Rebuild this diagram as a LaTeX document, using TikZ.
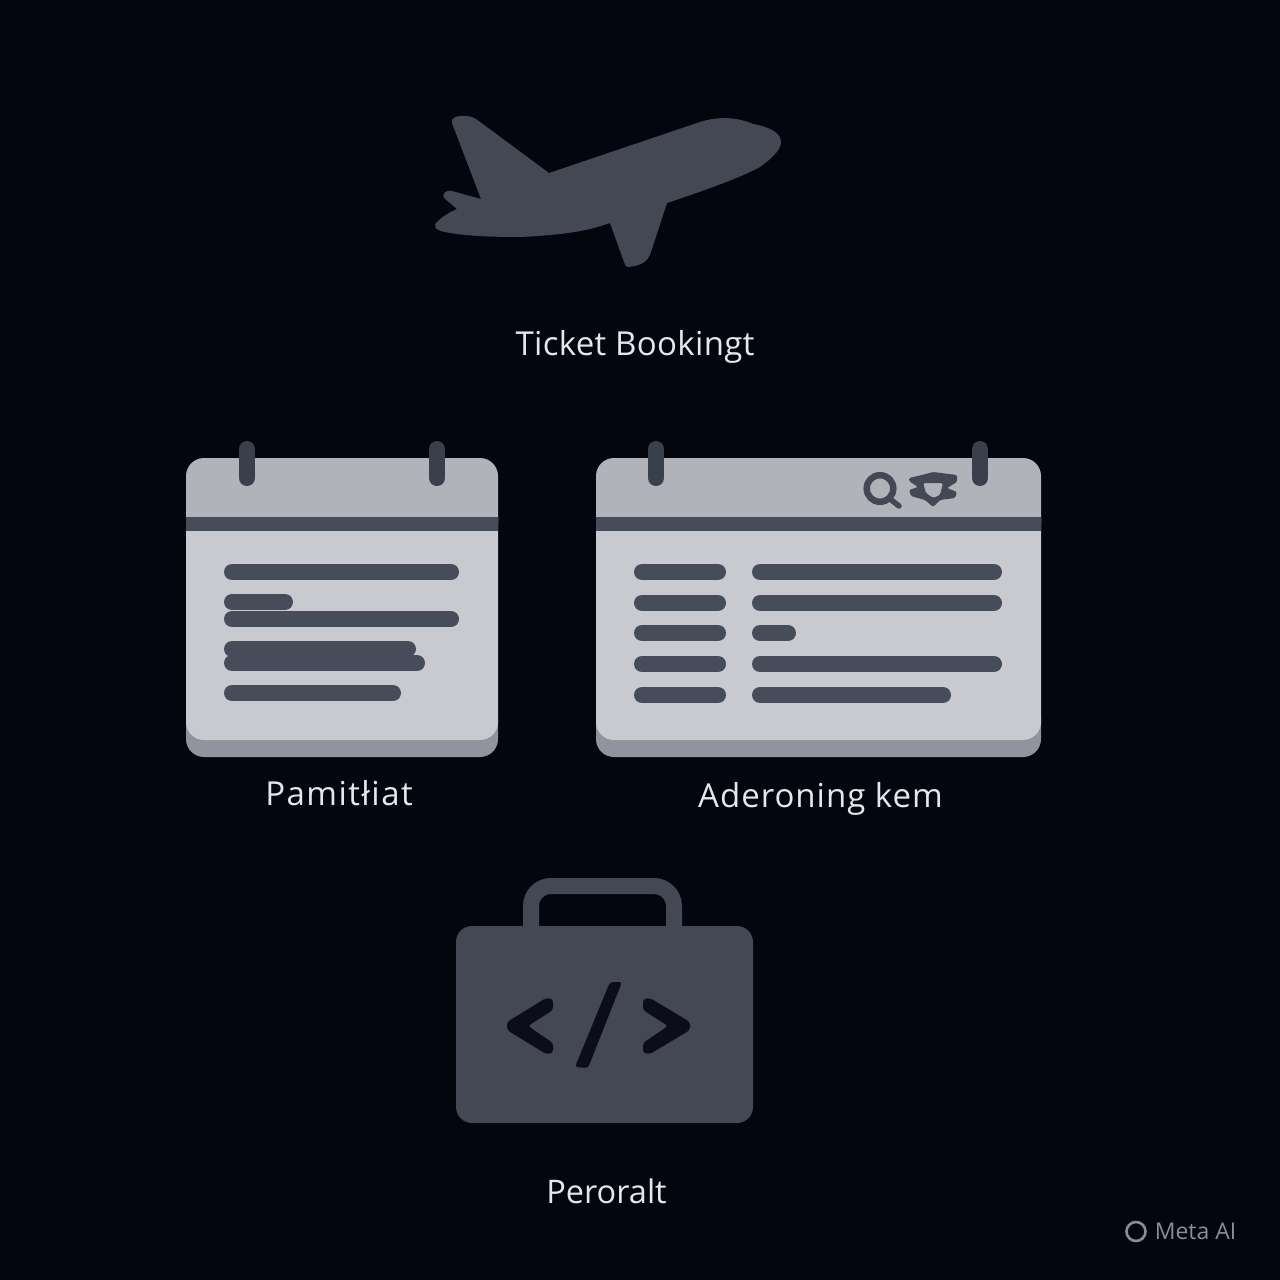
\documentclass[tikz,border=0pt]{standalone}
\usepackage{fontspec}
\setmainfont{Open Sans}
\definecolor{bgc}{HTML}{03050F}
\definecolor{icon}{HTML}{434854}
\definecolor{pin}{HTML}{3A3F4C}
\definecolor{head}{HTML}{B0B3BA}
\definecolor{bodyc}{HTML}{C8CACF}
\definecolor{lip}{HTML}{91949E}
\definecolor{barc}{HTML}{474C5A}
\definecolor{glyph}{HTML}{0B0E1A}
\definecolor{labc}{HTML}{E6E7EA}
\definecolor{markc}{HTML}{8A8D96}
\tikzset{
  x=1pt,y=-1pt,
  lab/.style={text=labc,font=\fontsize{33}{38}\selectfont,inner sep=0pt,anchor=base},
  bar/.style={line width=16pt,line cap=round,draw=barc},
  pinline/.style={line width=16pt,line cap=round,draw=pin},
  code/.style={fill=glyph,rounded corners=3pt},
}
\begin{document}
\begin{tikzpicture}
\useasboundingbox (0,0) rectangle (1280,1280);
\fill[bgc] (0,0) rectangle (1280,1280);
% plane
\fill[icon] (452,123) .. controls (450,117) and (460,115) .. (467,116)
 .. controls (470,116) and (473,117) .. (476,119) -- (549,173) -- (700,122)
 .. controls (715,117) and (735,116) .. (753,124)
 .. controls (770,127) and (781,133) .. (781,142)
 .. controls (781,150) and (772,158) .. (760,167)
 .. controls (740,178) and (700,192) .. (667,203)
 -- (650,255) .. controls (647,262) and (640,266) .. (628,267)
 .. controls (626,267) and (625,265) .. (624,262)
 -- (610,223) .. controls (585,232) and (560,235) .. (520,237)
 .. controls (490,237) and (465,236) .. (445,232)
 .. controls (435,230) and (432,226) .. (438,221)
 .. controls (443,216) and (450,212) .. (457,209) -- (444,198)
 .. controls (441,194) and (447,189) .. (452,191) -- (481,199) -- cycle;
\node[lab] (t1) at (635,355.5) {\addfontfeature{LetterSpace=1}Ticket Bookingt};
% calendar 1
\fill[lip,rounded corners=18pt] (186,700) rectangle (498,757);
\fill[bodyc,rounded corners=18pt] (186,500) rectangle (498,740);
\fill[head,rounded corners=18pt] (186,458) rectangle (498,540);
\fill[bodyc] (186,525) rectangle (498,560);
\fill[barc] (186,517) rectangle (498,531);
\draw[pinline] (247,449) -- (247,478);
\draw[pinline] (437,449) -- (437,478);
\draw[bar] (232,572) -- (451,572);
\draw[bar] (232,602) -- (285,602);
\draw[bar] (232,619) -- (451,619);
\draw[bar] (232,649) -- (408,649);
\draw[bar] (232,663) -- (417,663);
\draw[bar] (232,693) -- (393,693);
\node[lab] (t2) at (339,805) {\addfontfeature{LetterSpace=4.4}Pamitłiat};
% calendar 2
\fill[lip,rounded corners=18pt] (596,700) rectangle (1041,757);
\fill[bodyc,rounded corners=18pt] (596,500) rectangle (1041,740);
\fill[head,rounded corners=18pt] (596,458) rectangle (1041,540);
\fill[bodyc] (596,525) rectangle (1041,560);
\fill[barc] (596,517) rectangle (1041,531);
\draw[pinline] (656,449) -- (656,478);
\draw[pinline] (980,449) -- (980,478);
\foreach \yy/\xe in {572/994,603/994,633/788,664/994,695/943}{
  \draw[bar] (642,\yy) -- (718,\yy);
  \draw[bar] (760,\yy) -- (\xe,\yy);
}
\draw[icon,line width=6.5pt] (880,488.5) circle (13.3);
\draw[icon,line width=5.5pt,line cap=round] (890,499) -- (899,506);
\fill[icon,even odd rule,rounded corners=1.5pt] (909,478) -- (922,475) -- (933,472) -- (957,475) -- (957,482) -- (947,488) -- (957,492) -- (955,498) -- (940,500) -- (933,507) -- (925,500) -- (911,496) -- (909,490) -- (918,487) -- (909,481) -- cycle
  (923,483) -- (943,483) -- (940,495) -- (933,498) -- (926,493) -- cycle;
\node[lab] (t3) at (820.5,807) {\addfontfeature{LetterSpace=3}Aderoning kem};
% briefcase
\fill[icon,rounded corners=16pt] (456,926) rectangle (753,1123);
\draw[icon,line width=16pt,rounded corners=20pt] (531,930) -- (531,886) -- (674,886) -- (674,930);
\path[code] (553,999) -- (553,1010) -- (528,1026) -- (553,1043) -- (553,1053) -- (546,1054) -- (507,1030) -- (507,1022) -- (546,998) -- cycle;
\path[code] (643,999) -- (643,1010) -- (668,1026) -- (643,1043) -- (643,1053) -- (650,1054) -- (690,1030) -- (690,1022) -- (650,998) -- cycle;
\path[code] (610,982) -- (622,982) -- (588,1068) -- (575,1067) -- cycle;
\node[lab,font=\fontsize{32.5}{38}\selectfont] (t4) at (606.5,1203) {Peroralt};
% mark
\draw[markc,line width=2.6pt] (1136,1231.5) circle (9.5);
\node[lab,text=markc,font=\fontsize{23}{26}\selectfont] (t5) at (1195.5,1239.5) {Meta AI};
\end{tikzpicture}
\end{document}
